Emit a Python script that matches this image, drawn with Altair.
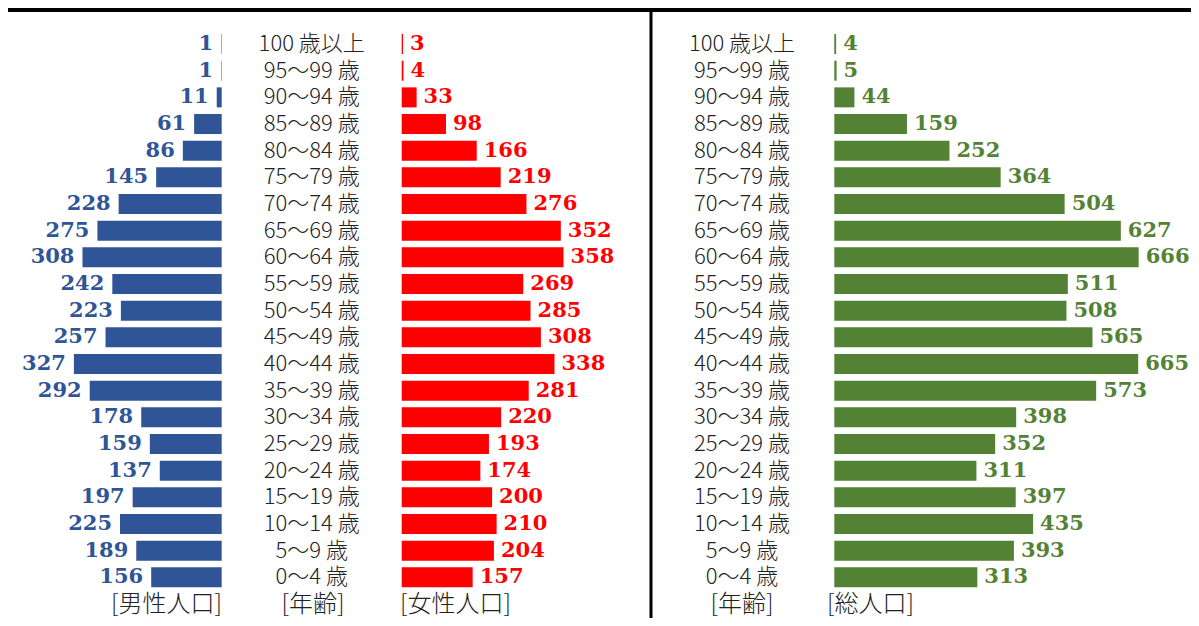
import altair as alt
import pandas as pd

ages = ["100 歳以上", "95〜99 歳", "90〜94 歳", "85〜89 歳", "80〜84 歳", "75〜79 歳",
        "70〜74 歳", "65〜69 歳", "60〜64 歳", "55〜59 歳", "50〜54 歳", "45〜49 歳",
        "40〜44 歳", "35〜39 歳", "30〜34 歳", "25〜29 歳", "20〜24 歳", "15〜19 歳",
        "10〜14 歳", "5〜9 歳", "0〜4 歳"]
male = [1, 1, 11, 61, 86, 145, 228, 275, 308, 242, 223, 257, 327, 292, 178, 159, 137, 197, 225, 189, 156]
female = [3, 4, 33, 98, 166, 219, 276, 352, 358, 269, 285, 308, 338, 281, 220, 193, 174, 200, 210, 204, 157]
total = [4, 5, 44, 159, 252, 364, 504, 627, 666, 511, 508, 565, 665, 573, 398, 352, 311, 397, 435, 393, 313]
footer_left = ["[男性人口]", "[年齢]", "[女性人口]"]
footer_right = ["[年齢]", "[総人口]"]

df = pd.DataFrame({"age": ages, "male": male, "female": female, "total": total})

BLUE = "#2F5597"
RED = "#FF0000"
GREEN = "#548235"
JP = "Noto Sans CJK JP"
NUM = "DejaVu Serif"

W, H = 1183, 610
row_range = [22.7, 582.7]
yenc = alt.Y("age:N", sort=ages, axis=None,
             scale=alt.Scale(domain=ages, range=row_range, paddingInner=0.25, paddingOuter=0.125))

base = alt.Chart(df)

male_scale = alt.Scale(domain=[0, 400], range=[213.7, 32.9])
female_scale = alt.Scale(domain=[0, 400], range=[393.7, 574.5])
total_scale = alt.Scale(domain=[0, 800], range=[826.3, 1191.9])

def bars(field, scale, color):
    return base.mark_bar(color=color).encode(
        x=alt.X(f"{field}:Q", scale=scale, axis=None), y=yenc)

def labels(field, scale, color, dx, align):
    return base.mark_text(color=color, font=NUM, fontWeight="bold", fontSize=21,
                          dx=dx, align=align, baseline="middle").encode(
        x=alt.X(f"{field}:Q", scale=scale, axis=None), y=yenc, text=alt.Text(f"{field}:Q"))

age1 = base.mark_text(font=JP, fontSize=22, fontWeight=300, color="#222222",
                      align="center", baseline="middle").encode(
    x=alt.value(303.7), y=yenc, text="age:N")
age2 = base.mark_text(font=JP, fontSize=22, fontWeight=300, color="#222222",
                      align="center", baseline="middle").encode(
    x=alt.value(734), y=yenc, text="age:N")

fdf = pd.DataFrame({"t": footer_left + footer_right})
def footer(i, x, align):
    return alt.Chart(fdf.iloc[[i]]).mark_text(font=JP, fontSize=24, fontWeight=300,
                                               color="#222222", align=align,
                                               baseline="middle").encode(
        x=alt.value(x), y=alt.value(597), text="t:N")

f1 = footer(0, 214, "right")
f2 = footer(1, 305, "center")
f3 = footer(2, 392, "left")
f4 = footer(3, 734, "center")
f5 = footer(4, 819, "left")

top_line = alt.Chart(fdf.iloc[[0]]).mark_rule(color="black", strokeWidth=4).encode(
    x=alt.value(0), x2=alt.value(W), y=alt.value(2))
vline = alt.Chart(fdf.iloc[[0]]).mark_rule(color="black", strokeWidth=3).encode(
    x=alt.value(643), y=alt.value(0), y2=alt.value(H))

chart = alt.layer(
    bars("male", male_scale, BLUE), labels("male", male_scale, BLUE, -8, "right"),
    bars("female", female_scale, RED), labels("female", female_scale, RED, 7, "left"),
    bars("total", total_scale, GREEN), labels("total", total_scale, GREEN, 7, "left"),
    age1, age2, f1, f2, f3, f4, f5, top_line, vline
).resolve_scale(x="independent").properties(
    width=W, height=H, autosize=alt.AutoSizeParams(type="none"), padding=0, background="white"
).configure_view(stroke=None)

chart.save("out.html", embed_options={"renderer": "svg", "actions": False})
